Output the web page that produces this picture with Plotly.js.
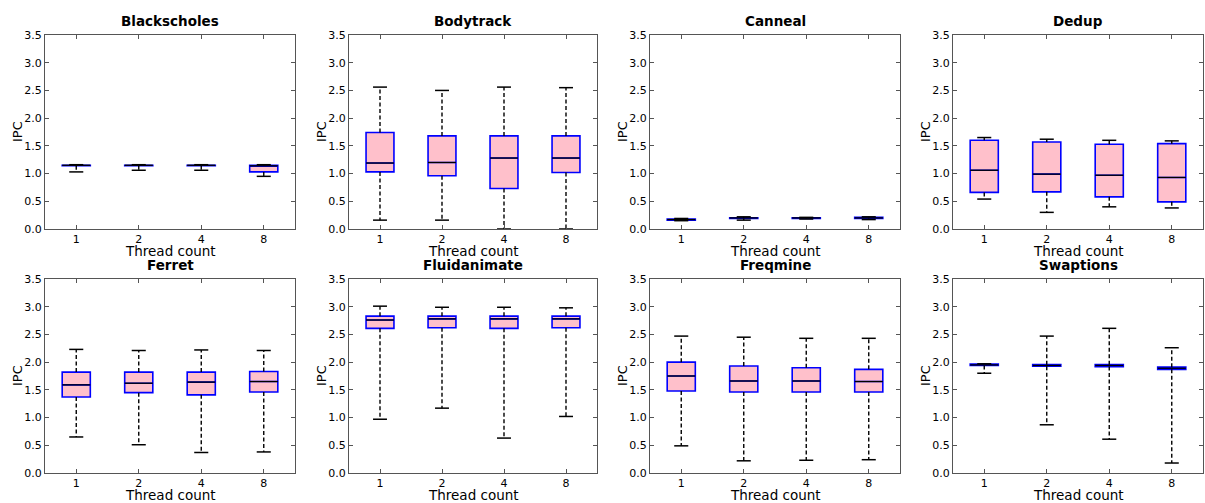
<!DOCTYPE html>
<html>
<head>
<meta charset="utf-8">
<script src="https://cdn.plot.ly/plotly-3.0.1.min.js"></script>
<style>
  html, body { margin: 0; padding: 0; background: #fff; }
  #chart { width: 1205px; height: 503px; }
</style>
</head>
<body>
<div id="chart"></div>
<script>
// PARSEC benchmarks: IPC distribution per thread count
const benchmarks = ['Blackscholes', 'Bodytrack', 'Canneal', 'Dedup',
                    'Ferret', 'Fluidanimate', 'Freqmine', 'Swaptions'];
const threadLabels = ['1', '2', '4', '8'];
const xTitle = 'Thread count';
const yTitle = 'IPC';

// Five-number summaries, one row per benchmark, one column per thread count
const whiskerLow = [
  [1.03, 1.06, 1.06, 0.95],
  [0.16, 0.16, 0.00, 0.00],
  [0.15, 0.16, 0.18, 0.17],
  [0.54, 0.30, 0.40, 0.38],
  [0.65, 0.51, 0.37, 0.38],
  [0.97, 1.17, 0.63, 1.02],
  [0.49, 0.22, 0.23, 0.24],
  [1.80, 0.87, 0.61, 0.18]
];
const quartile1 = [
  [1.14, 1.14, 1.14, 1.03],
  [1.03, 0.96, 0.73, 1.02],
  [0.16, 0.19, 0.19, 0.19],
  [0.66, 0.67, 0.58, 0.49],
  [1.37, 1.45, 1.41, 1.46],
  [2.61, 2.62, 2.61, 2.62],
  [1.48, 1.46, 1.46, 1.46],
  [1.94, 1.925, 1.92, 1.87]
];
const medians = [
  [1.15, 1.15, 1.15, 1.14],
  [1.19, 1.20, 1.28, 1.28],
  [0.17, 0.20, 0.20, 0.20],
  [1.06, 0.99, 0.97, 0.93],
  [1.59, 1.62, 1.64, 1.65],
  [2.76, 2.78, 2.78, 2.78],
  [1.75, 1.66, 1.66, 1.65],
  [1.95, 1.94, 1.94, 1.89]
];
const quartile3 = [
  [1.15, 1.15, 1.15, 1.15],
  [1.74, 1.68, 1.68, 1.68],
  [0.18, 0.20, 0.20, 0.21],
  [1.60, 1.57, 1.53, 1.54],
  [1.82, 1.82, 1.82, 1.83],
  [2.83, 2.83, 2.83, 2.83],
  [2.00, 1.93, 1.90, 1.87],
  [1.965, 1.955, 1.955, 1.91]
];
const whiskerHigh = [
  [1.16, 1.16, 1.16, 1.16],
  [2.56, 2.50, 2.56, 2.55],
  [0.19, 0.22, 0.21, 0.22],
  [1.65, 1.62, 1.60, 1.59],
  [2.23, 2.21, 2.22, 2.21],
  [3.01, 2.99, 2.99, 2.98],
  [2.47, 2.45, 2.43, 2.43],
  [1.97, 2.47, 2.61, 2.26]
];

const W = 1205, H = 503;
const FONT = 'DejaVu Sans, Verdana, sans-serif';
const positions = threadLabels.map((_, i) => i + 1);
const boxWidth = 0.45;
const capHalf = boxWidth / 4;
const medHalf = boxWidth / 2;

// Panel rectangles in pixels: [left, right] per column, [top, bottom] per row
const colPx = [[45, 295], [349, 597], [650, 900], [953, 1203]];
const rowPx = [[35, 229], [279, 473]];

const traces = [];
const layout = {
  width: W, height: H,
  margin: { l: 0, r: 0, t: 0, b: 0 },
  paper_bgcolor: '#fff', plot_bgcolor: '#fff',
  showlegend: false,
  font: { family: FONT, color: '#000' },
  annotations: []
};

benchmarks.forEach((name, k) => {
  const row = Math.floor(k / 4), col = k % 4;
  const ax = k === 0 ? '' : String(k + 1);
  const xa = 'x' + ax, ya = 'y' + ax;

  // Boxes (pink fill, blue outline); whiskers drawn separately
  traces.push({
    type: 'box', xaxis: xa, yaxis: ya,
    x: positions,
    q1: quartile1[k], median: medians[k], q3: quartile3[k],
    lowerfence: quartile1[k], upperfence: quartile3[k],
    width: boxWidth, whiskerwidth: 0,
    fillcolor: '#ffc0cb',
    line: { color: '#0000ff', width: 1.6 },
    boxpoints: false, hoverinfo: 'skip'
  });

  // Dashed whiskers
  const wx = [], wy = [];
  positions.forEach((p, i) => {
    wx.push(p, p, null, p, p, null);
    wy.push(quartile3[k][i], whiskerHigh[k][i], null, quartile1[k][i], whiskerLow[k][i], null);
  });
  traces.push({
    type: 'scatter', mode: 'lines', xaxis: xa, yaxis: ya,
    x: wx, y: wy, line: { color: '#000', width: 1.4, dash: '4px,2.5px' },
    hoverinfo: 'skip', cliponaxis: false
  });

  // Whisker caps
  const cx = [], cy = [];
  positions.forEach((p, i) => {
    cx.push(p - capHalf, p + capHalf, null, p - capHalf, p + capHalf, null);
    cy.push(whiskerHigh[k][i], whiskerHigh[k][i], null, whiskerLow[k][i], whiskerLow[k][i], null);
  });
  traces.push({
    type: 'scatter', mode: 'lines', xaxis: xa, yaxis: ya,
    x: cx, y: cy, line: { color: '#000', width: 1.5 },
    hoverinfo: 'skip', cliponaxis: false
  });

  // Median lines
  const mx = [], my = [];
  positions.forEach((p, i) => {
    mx.push(p - medHalf, p + medHalf, null);
    my.push(medians[k][i], medians[k][i], null);
  });
  traces.push({
    type: 'scatter', mode: 'lines', xaxis: xa, yaxis: ya,
    x: mx, y: my, line: { color: '#000', width: 1.3 },
    hoverinfo: 'skip'
  });

  const [l, r] = colPx[col];
  const [t, b] = rowPx[row];
  const common = {
    showline: true, mirror: 'ticks', linecolor: '#555', linewidth: 1,
    ticks: 'inside', ticklen: 4, tickcolor: '#555', tickwidth: 1,
    showgrid: false, zeroline: false, fixedrange: true,
    tickfont: { family: FONT, size: 11, color: '#000' }
  };
  layout['xaxis' + ax] = Object.assign({}, common, {
    domain: [l / W, r / W], anchor: ya,
    range: [0.5, 4.5], tickmode: 'array',
    tickvals: positions, ticktext: threadLabels
  });
  layout['yaxis' + ax] = Object.assign({}, common, {
    domain: [1 - b / H, 1 - t / H], anchor: xa,
    range: [0, 3.5], tickmode: 'linear', tick0: 0, dtick: 0.5, tickformat: '.1f'
  });

  // Panel title
  layout.annotations.push({
    xref: 'paper', yref: 'paper',
    x: (l + r) / 2 / W, y: 1 - (t - 14) / H,
    text: '<b>' + name + '</b>', showarrow: false,
    xanchor: 'center', yanchor: 'middle',
    font: { family: FONT, size: 13.5, color: '#000' }
  });
  // Axis titles placed close to the tick labels
  layout.annotations.push({
    xref: 'paper', yref: 'paper',
    x: (l + r) / 2 / W, y: 1 - (b + 22) / H,
    text: xTitle, showarrow: false,
    xanchor: 'center', yanchor: 'middle',
    font: { family: FONT, size: 13.5, color: '#000' }
  });
  layout.annotations.push({
    xref: 'paper', yref: 'paper',
    x: (l - 28) / W, y: 1 - (t + b) / 2 / H,
    text: yTitle, showarrow: false, textangle: -90,
    xanchor: 'center', yanchor: 'middle',
    font: { family: FONT, size: 13, color: '#000' }
  });
});

Plotly.newPlot('chart', traces, layout, { staticPlot: true, displayModeBar: false });
</script>
</body>
</html>
